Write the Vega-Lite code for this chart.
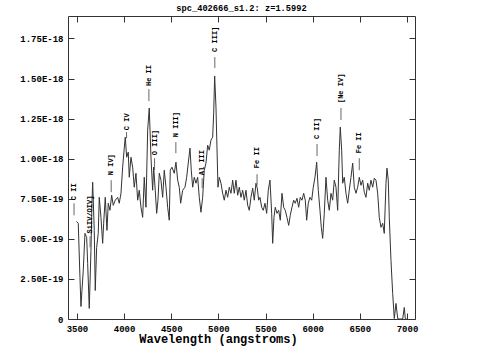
{
  "$schema": "https://vega.github.io/schema/vega-lite/v6.json",
  "width": 347,
  "height": 303,
  "autosize": "none",
  "padding": {"left": 68, "top": 16, "right": 68, "bottom": 39},
  "background": "white",
  "title": {"text": "spc_402666_s1.2: z=1.5992", "font": "Liberation Mono", "fontWeight": "bold", "fontSize": 8.7, "color": "#000", "anchor": "middle", "baseline": "alphabetic", "offset": -4},
  "config": {
    "view": {"stroke": "#333", "strokeWidth": 1},
    "axis": {"grid": false, "domain": false, "offset": -6, "tickColor": "#333", "tickSize": 6, "tickWidth": 1, "labelFont": "Liberation Mono", "labelFontWeight": "bold", "labelFontSize": 9, "labelColor": "#000", "titleFont": "Liberation Mono", "titleFontWeight": "bold", "titleColor": "#000"}
  },
  "datasets": {
    "spec": [
      {"wl": 3494.7, "flux": 6.09e-19}, {"wl": 3513.8, "flux": 5.97e-19}, {"wl": 3531.8, "flux": 2.59e-19}, {"wl": 3542.4, "flux": 0.78e-19},
      {"wl": 3553.0, "flux": 1.78e-19}, {"wl": 3566.8, "flux": 3.03e-19}, {"wl": 3584.8, "flux": 5.34e-19}, {"wl": 3602.9, "flux": 5.09e-19},
      {"wl": 3613.5, "flux": 3.47e-19}, {"wl": 3630.5, "flux": 0.66e-19}, {"wl": 3648.5, "flux": 4.28e-19}, {"wl": 3659.1, "flux": 7.22e-19},
      {"wl": 3666.5, "flux": 8.53e-19}, {"wl": 3683.5, "flux": 5.53e-19}, {"wl": 3694.1, "flux": 1.78e-19}, {"wl": 3708.9, "flux": 4.47e-19},
      {"wl": 3725.9, "flux": 5.34e-19}, {"wl": 3736.5, "flux": 7.59e-19}, {"wl": 3754.5, "flux": 6.34e-19}, {"wl": 3772.6, "flux": 4.72e-19},
      {"wl": 3783.2, "flux": 5.97e-19}, {"wl": 3800.1, "flux": 7.59e-19}, {"wl": 3818.2, "flux": 5.53e-19}, {"wl": 3832.0, "flux": 7.22e-19},
      {"wl": 3850.0, "flux": 6.78e-19}, {"wl": 3868.0, "flux": 7.72e-19}, {"wl": 3885.0, "flux": 7.09e-19}, {"wl": 3906.2, "flux": 7.41e-19},
      {"wl": 3931.7, "flux": 7.59e-19}, {"wl": 3948.6, "flux": 7.22e-19}, {"wl": 3966.7, "flux": 7.84e-19}, {"wl": 3984.7, "flux": 9.47e-19},
      {"wl": 4001.7, "flux": 10.66e-19}, {"wl": 4012.3, "flux": 11.34e-19}, {"wl": 4027.1, "flux": 10.09e-19}, {"wl": 4044.1, "flux": 10.41e-19},
      {"wl": 4054.7, "flux": 8.84e-19}, {"wl": 4072.7, "flux": 10.09e-19}, {"wl": 4090.8, "flux": 9.47e-19}, {"wl": 4107.7, "flux": 8.22e-19},
      {"wl": 4125.8, "flux": 9.09e-19}, {"wl": 4143.8, "flux": 7.41e-19}, {"wl": 4160.7, "flux": 8.03e-19}, {"wl": 4178.8, "flux": 6.97e-19},
      {"wl": 4196.8, "flux": 6.34e-19}, {"wl": 4213.8, "flux": 8.84e-19}, {"wl": 4231.8, "flux": 6.97e-19}, {"wl": 4249.8, "flux": 11.78e-19},
      {"wl": 4266.8, "flux": 13.16e-19}, {"wl": 4284.8, "flux": 10.09e-19}, {"wl": 4302.8, "flux": 8.03e-19}, {"wl": 4313.5, "flux": 9.47e-19},
      {"wl": 4330.4, "flux": 8.03e-19}, {"wl": 4345.3, "flux": 6.59e-19}, {"wl": 4359.1, "flux": 7.41e-19}, {"wl": 4372.9, "flux": 9.09e-19},
      {"wl": 4390.9, "flux": 8.66e-19}, {"wl": 4408.9, "flux": 7.59e-19}, {"wl": 4425.9, "flux": 9.28e-19}, {"wl": 4444.0, "flux": 8.22e-19},
      {"wl": 4462.0, "flux": 6.97e-19}, {"wl": 4479.0, "flux": 6.16e-19}, {"wl": 4489.5, "flux": 9.28e-19}, {"wl": 4507.6, "flux": 9.47e-19},
      {"wl": 4532.0, "flux": 9.09e-19}, {"wl": 4550.0, "flux": 9.78e-19}, {"wl": 4568.0, "flux": 8.66e-19}, {"wl": 4585.0, "flux": 8.22e-19},
      {"wl": 4599.8, "flux": 7.22e-19}, {"wl": 4621.1, "flux": 8.03e-19}, {"wl": 4645.4, "flux": 8.22e-19}, {"wl": 4663.5, "flux": 8.84e-19},
      {"wl": 4680.4, "flux": 9.72e-19}, {"wl": 4698.5, "flux": 10.66e-19}, {"wl": 4712.3, "flux": 9.28e-19}, {"wl": 4727.1, "flux": 8.22e-19},
      {"wl": 4744.1, "flux": 8.84e-19}, {"wl": 4762.1, "flux": 8.47e-19}, {"wl": 4780.1, "flux": 8.84e-19}, {"wl": 4797.1, "flux": 7.59e-19},
      {"wl": 4815.1, "flux": 6.66e-19}, {"wl": 4833.2, "flux": 7.59e-19}, {"wl": 4850.1, "flux": 9.28e-19}, {"wl": 4868.2, "flux": 9.72e-19},
      {"wl": 4886.2, "flux": 10.84e-19}, {"wl": 4903.2, "flux": 10.53e-19}, {"wl": 4921.2, "flux": 11.16e-19}, {"wl": 4939.2, "flux": 11.34e-19},
      {"wl": 4949.9, "flux": 12.84e-19}, {"wl": 4960.4, "flux": 15.16e-19}, {"wl": 4974.3, "flux": 13.22e-19}, {"wl": 4984.8, "flux": 10.72e-19},
      {"wl": 4995.4, "flux": 8.22e-19}, {"wl": 5009.2, "flux": 8.84e-19}, {"wl": 5027.3, "flux": 8.47e-19}, {"wl": 5045.3, "flux": 7.84e-19},
      {"wl": 5062.3, "flux": 7.41e-19}, {"wl": 5080.3, "flux": 8.03e-19}, {"wl": 5098.3, "flux": 7.59e-19}, {"wl": 5115.3, "flux": 8.22e-19},
      {"wl": 5133.3, "flux": 7.84e-19}, {"wl": 5151.4, "flux": 8.66e-19}, {"wl": 5168.3, "flux": 7.84e-19}, {"wl": 5186.4, "flux": 8.66e-19},
      {"wl": 5204.4, "flux": 7.72e-19}, {"wl": 5221.4, "flux": 8.22e-19}, {"wl": 5239.4, "flux": 7.59e-19}, {"wl": 5257.4, "flux": 8.03e-19},
      {"wl": 5274.4, "flux": 7.41e-19}, {"wl": 5292.4, "flux": 8.03e-19}, {"wl": 5310.5, "flux": 7.09e-19}, {"wl": 5327.4, "flux": 6.78e-19},
      {"wl": 5345.4, "flux": 7.59e-19}, {"wl": 5363.5, "flux": 8.16e-19}, {"wl": 5380.4, "flux": 7.41e-19}, {"wl": 5398.5, "flux": 8.47e-19},
      {"wl": 5412.3, "flux": 8.16e-19}, {"wl": 5427.1, "flux": 7.41e-19}, {"wl": 5440.9, "flux": 7.59e-19}, {"wl": 5459.0, "flux": 6.97e-19},
      {"wl": 5475.9, "flux": 6.78e-19}, {"wl": 5494.0, "flux": 7.22e-19}, {"wl": 5512.0, "flux": 6.59e-19}, {"wl": 5529.0, "flux": 8.03e-19},
      {"wl": 5547.0, "flux": 8.66e-19}, {"wl": 5565.0, "flux": 6.59e-19}, {"wl": 5575.6, "flux": 4.72e-19}, {"wl": 5589.4, "flux": 6.34e-19},
      {"wl": 5603.2, "flux": 6.97e-19}, {"wl": 5621.2, "flux": 6.59e-19}, {"wl": 5639.3, "flux": 6.78e-19}, {"wl": 5656.2, "flux": 6.16e-19},
      {"wl": 5674.2, "flux": 7.84e-19}, {"wl": 5692.3, "flux": 6.97e-19}, {"wl": 5709.2, "flux": 6.78e-19}, {"wl": 5727.2, "flux": 6.34e-19},
      {"wl": 5745.3, "flux": 5.84e-19}, {"wl": 5762.3, "flux": 6.47e-19}, {"wl": 5780.3, "flux": 6.97e-19}, {"wl": 5798.3, "flux": 7.41e-19},
      {"wl": 5815.3, "flux": 7.22e-19}, {"wl": 5833.3, "flux": 7.53e-19}, {"wl": 5851.3, "flux": 6.97e-19}, {"wl": 5868.3, "flux": 7.59e-19},
      {"wl": 5886.4, "flux": 7.41e-19}, {"wl": 5904.4, "flux": 7.84e-19}, {"wl": 5921.4, "flux": 7.41e-19}, {"wl": 5936.2, "flux": 6.16e-19},
      {"wl": 5953.2, "flux": 7.22e-19}, {"wl": 5971.2, "flux": 7.59e-19}, {"wl": 5989.2, "flux": 7.41e-19}, {"wl": 6006.2, "flux": 8.22e-19},
      {"wl": 6024.3, "flux": 8.84e-19}, {"wl": 6042.3, "flux": 9.78e-19}, {"wl": 6059.3, "flux": 8.03e-19}, {"wl": 6077.3, "flux": 6.78e-19},
      {"wl": 6091.1, "flux": 5.72e-19}, {"wl": 6105.9, "flux": 5.03e-19}, {"wl": 6122.9, "flux": 6.59e-19}, {"wl": 6140.9, "flux": 8.84e-19},
      {"wl": 6158.9, "flux": 7.41e-19}, {"wl": 6175.9, "flux": 6.78e-19}, {"wl": 6193.9, "flux": 7.84e-19}, {"wl": 6212.0, "flux": 7.41e-19},
      {"wl": 6228.9, "flux": 8.66e-19}, {"wl": 6247.0, "flux": 8.22e-19}, {"wl": 6265.0, "flux": 6.78e-19}, {"wl": 6282.0, "flux": 10.53e-19},
      {"wl": 6292.6, "flux": 11.97e-19}, {"wl": 6307.5, "flux": 10.53e-19}, {"wl": 6318.0, "flux": 8.47e-19}, {"wl": 6335.0, "flux": 8.84e-19},
      {"wl": 6353.0, "flux": 7.84e-19}, {"wl": 6371.1, "flux": 7.22e-19}, {"wl": 6388.0, "flux": 8.03e-19}, {"wl": 6406.0, "flux": 8.84e-19},
      {"wl": 6424.1, "flux": 9.72e-19}, {"wl": 6441.0, "flux": 8.22e-19}, {"wl": 6459.1, "flux": 7.84e-19}, {"wl": 6477.1, "flux": 8.22e-19},
      {"wl": 6494.1, "flux": 8.84e-19}, {"wl": 6512.1, "flux": 8.34e-19}, {"wl": 6530.1, "flux": 8.66e-19}, {"wl": 6547.1, "flux": 7.91e-19},
      {"wl": 6565.1, "flux": 7.59e-19}, {"wl": 6583.2, "flux": 8.47e-19}, {"wl": 6600.1, "flux": 8.03e-19}, {"wl": 6618.2, "flux": 8.66e-19},
      {"wl": 6636.2, "flux": 8.22e-19}, {"wl": 6653.2, "flux": 8.78e-19}, {"wl": 6671.2, "flux": 8.66e-19}, {"wl": 6689.2, "flux": 7.84e-19},
      {"wl": 6706.2, "flux": 6.34e-19}, {"wl": 6724.2, "flux": 5.72e-19}, {"wl": 6742.3, "flux": 5.97e-19}, {"wl": 6759.2, "flux": 5.34e-19},
      {"wl": 6777.3, "flux": 8.47e-19}, {"wl": 6787.8, "flux": 9.41e-19}, {"wl": 6801.6, "flux": 8.66e-19}, {"wl": 6812.2, "flux": 6.34e-19},
      {"wl": 6830.3, "flux": 3.66e-19}, {"wl": 6848.3, "flux": 1.59e-19}, {"wl": 6865.3, "flux": 0.03e-19}, {"wl": 6883.3, "flux": 0.97e-19},
      {"wl": 6901.4, "flux": 0.03e-19}, {"wl": 6918.3, "flux": 0}, {"wl": 6954.4, "flux": 0}, {"wl": 6971.4, "flux": 0.72e-19},
      {"wl": 6982.0, "flux": 0.03e-19}, {"wl": 6996.8, "flux": 0}
    ],
    "lines": [
      {"wl": 3469, "label": "C II", "ftext": 7.41e-19, "ftop": 7.22e-19, "fbot": 6.47e-19},
      {"wl": 3639, "label": "SiIV/OIV]", "ftext": 5.34e-19, "ftop": 5.16e-19, "fbot": 4.47e-19},
      {"wl": 3863, "label": "N IV]", "ftext": 8.97e-19, "ftop": 8.66e-19, "fbot": 7.91e-19},
      {"wl": 4026, "label": "C IV", "ftext": 11.78e-19, "ftop": 11.66e-19, "fbot": 11.28e-19},
      {"wl": 4263, "label": "He II", "ftext": 14.53e-19, "ftop": 14.34e-19, "fbot": 13.59e-19},
      {"wl": 4323, "label": "O III]", "ftext": 10.22e-19, "ftop": 10.03e-19, "fbot": 9.28e-19},
      {"wl": 4549, "label": "N III]", "ftext": 11.34e-19, "ftop": 11.03e-19, "fbot": 10.34e-19},
      {"wl": 4828, "label": "Al III", "ftext": 8.97e-19, "ftop": 8.78e-19, "fbot": 8.16e-19},
      {"wl": 4962, "label": "C III]", "ftext": 16.66e-19, "ftop": 16.34e-19, "fbot": 15.66e-19},
      {"wl": 5410, "label": "Fe II", "ftext": 9.41e-19, "ftop": 9.03e-19, "fbot": 8.34e-19},
      {"wl": 6046, "label": "C II]", "ftext": 11.22e-19, "ftop": 10.91e-19, "fbot": 10.16e-19},
      {"wl": 6300, "label": "[Ne IV]", "ftext": 13.47e-19, "ftop": 13.16e-19, "fbot": 12.41e-19},
      {"wl": 6494, "label": "Fe II", "ftext": 10.34e-19, "ftop": 10.03e-19, "fbot": 9.28e-19}
    ]
  },
  "layer": [
    {
      "data": {"name": "spec"},
      "mark": {"type": "line", "color": "#333", "strokeWidth": 1, "clip": true, "interpolate": "linear"},
      "encoding": {
        "x": {"field": "wl", "type": "quantitative", "scale": {"domain": [3405, 7085], "nice": false, "zero": false},
          "axis": {"orient": "bottom", "values": [3500, 4000, 4500, 5000, 5500, 6000, 6500, 7000], "format": "d", "labelPadding": 5, "title": "Wavelength (angstroms)", "titleFontSize": 12, "titleX": 150, "titleY": 29, "titleBaseline": "alphabetic", "titleAnchor": null}},
        "y": {"field": "flux", "type": "quantitative", "scale": {"domain": [0, 1.89e-18], "nice": false},
          "axis": {"orient": "left", "values": [0, 2.5e-19, 5e-19, 7.5e-19, 1e-18, 1.25e-18, 1.5e-18, 1.75e-18], "labelPadding": 5, "title": null,
            "labelExpr": "datum.value == 0 ? '0' : upper(format(datum.value, '.2e'))"}}
      }
    },
    {
      "data": {"name": "spec"},
      "mark": {"type": "line", "opacity": 0},
      "encoding": {
        "x": {"field": "wl", "type": "quantitative", "axis": {"orient": "top", "values": [3500, 4000, 4500, 5000, 5500, 6000, 6500, 7000], "labels": false, "title": null}},
        "y": {"field": "flux", "type": "quantitative", "axis": {"orient": "right", "values": [0, 2.5e-19, 5e-19, 7.5e-19, 1e-18, 1.25e-18, 1.5e-18, 1.75e-18], "labels": false, "title": null}}
      }
    },
    {
      "data": {"name": "lines"},
      "mark": {"type": "rule", "color": "#666", "strokeWidth": 1},
      "encoding": {
        "x": {"field": "wl", "type": "quantitative", "axis": null},
        "y": {"field": "fbot", "type": "quantitative", "axis": null},
        "y2": {"field": "ftop"}
      }
    },
    {
      "data": {"name": "lines"},
      "mark": {"type": "text", "angle": 270, "align": "left", "baseline": "middle", "font": "Liberation Mono", "fontWeight": "bold", "fontSize": 7, "color": "#000"},
      "encoding": {
        "x": {"field": "wl", "type": "quantitative", "axis": null},
        "y": {"field": "ftext", "type": "quantitative", "axis": null},
        "text": {"field": "label"}
      }
    }
  ],
  "resolve": {"axis": {"x": "independent", "y": "independent"}}
}
